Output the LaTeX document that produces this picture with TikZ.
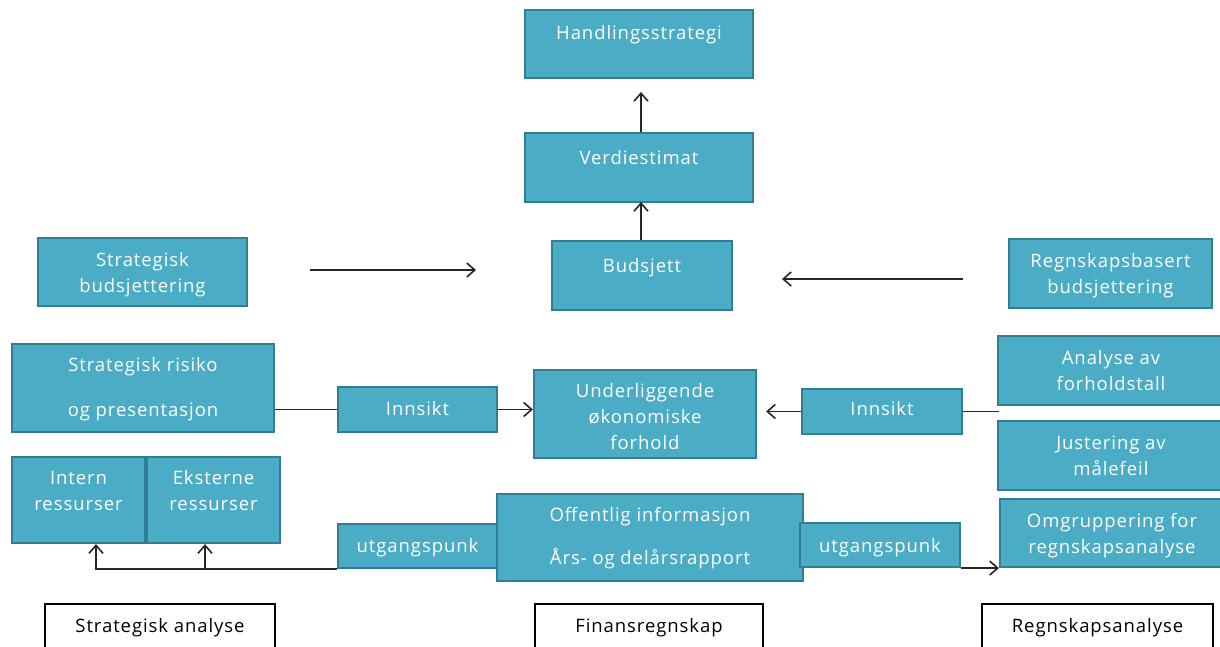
\documentclass[tikz,border=0pt]{standalone}
\usepackage{fontspec}
\setmainfont{Open Sans}[LetterSpace=5]
\usetikzlibrary{arrows.meta}
\definecolor{boxfill}{RGB}{75,172,198}
\definecolor{boxline}{RGB}{49,126,148}
\newcommand{\bt}[2]{\raisebox{#1pt}[0pt][0pt]{\begin{tabular}{@{}c@{}}#2\end{tabular}}}
\begin{document}
\begin{tikzpicture}[x=1pt,y=-1pt,
  box/.style={draw=boxline, fill=boxfill, line width=2.2pt, text=white, inner sep=0pt, font=\fontsize{18.5}{26}\selectfont},
  lab/.style={draw=black, fill=white, line width=2.2pt, text=black, inner sep=0pt, font=\fontsize{18.5}{26}\selectfont},
  con/.style={draw=black!85, line width=1.6pt},
  arr/.style={con, -{Straight Barb[length=8pt,width=14pt,line width=1.6pt]}}]
\useasboundingbox (0,0) rectangle (1220,647);
% top column
\node[box, minimum width=228, minimum height=68] (hs) at (639,44) {\bt{5.5}{Handlingsstrategi}};
\node[box, minimum width=228, minimum height=69] (ver) at (639,167.5) {\bt{4}{Verdiestimat}};
\node[box, minimum width=180, minimum height=69] (bud) at (642,275.5) {\bt{4}{Budsjett}};
\node[box, minimum width=209, minimum height=68] (sb) at (142.5,272) {\bt{-6.5}{Strategisk\\budsjettering}};
\node[box, minimum width=203, minimum height=69] (rb) at (1110.5,273.5) {\bt{-6.5}{Regnskapsbasert\\budsjettering}};
% middle row
\node[box, minimum width=262, minimum height=88] (sr) at (143,388) {\bt{-5}{Strategisk risiko\\[19pt]og presentasjon}};
\node[box, minimum width=159, minimum height=45] (il) at (417.5,409.5) {\bt{-5}{Innsikt}};
\node[box, minimum width=222, minimum height=88] (und) at (645,414) {\bt{-8.5}{Underliggende\\økonomiske\\forhold}};
\node[box, minimum width=160, minimum height=45] (ir) at (882,411.5) {\bt{-3}{Innsikt}};
\node[box, minimum width=226, minimum height=69] (ana) at (1111,370.5) {\bt{-6.5}{Analyse av\\forholdstall}};
\node[box, minimum width=226, minimum height=69] (jus) at (1111,455.5) {\bt{-6.5}{Justering av\\målefeil}};
% lower row
\node[box, minimum width=133, minimum height=86] (int) at (78.5,500) {\bt{3.5}{Intern\\ressurser}};
\node[box, minimum width=133, minimum height=86] (eks) at (213.5,500) {\bt{3.5}{Eksterne\\ressurser}};
\node[box, minimum width=306, minimum height=87] (off) at (650,537.5) {\bt{-4.5}{Offentlig informasjon\\[17pt]Års- og delårsrapport}};
\node[box, minimum width=159, minimum height=44] (ul) at (417.5,546) {\bt{-5.5}{utgangspunk}};
\node[box, minimum width=160, minimum height=44] (ur) at (880,545) {\bt{-6.5}{utgangspunk}};
\node[box, minimum width=224, minimum height=68] (omg) at (1112,533) {\bt{-6.5}{Omgruppering for\\regnskapsanalyse}};
% bottom labels
\node[lab, minimum width=230, minimum height=66] (sa) at (160,637) {\bt{5.5}{Strategisk analyse}};
\node[lab, minimum width=228, minimum height=66] (fr) at (649,637) {\bt{5.5}{Finansregnskap}};
\node[lab, minimum width=231, minimum height=66] (ra) at (1097.5,637) {\bt{5.5}{Regnskapsanalyse}};
% free coordinates
\coordinate (a1s) at (310,270);
\coordinate (a1e) at (476,270);
\coordinate (a2s) at (963,279);
\coordinate (a2e) at (782,279);
\coordinate (rend) at (999,409.5);
\coordinate (j1) at (96,568);
\coordinate (j2) at (205,568);
% connectors
\draw[arr] (bud.north -| 641,0) -- (641,202);
\draw[arr, shorten >=14pt] (ver.north -| 641,0) -- (641,78);
\draw[arr] (a1s) -- (a1e);
\draw[arr] (a2s) -- (a2e);
\draw[con] (il.west) -- (il.west -| sr.east);
\draw[arr] (il.east) -- (il.east -| und.west);
\draw[arr, shorten >=9pt] (ir.west) -- (ir.west -| und.east);
\draw[con] (ir.east) -- (ir.east -| rend);
\draw[arr] (ul.south west) -- (ul.south west -| j1) -- (j1 |- int.south);
\draw[arr] (j2 |- ul.south west) -- (j2 |- eks.south);
\draw[arr] (ur.south east) -- (ur.south east -| omg.west);
\end{tikzpicture}
\end{document}
